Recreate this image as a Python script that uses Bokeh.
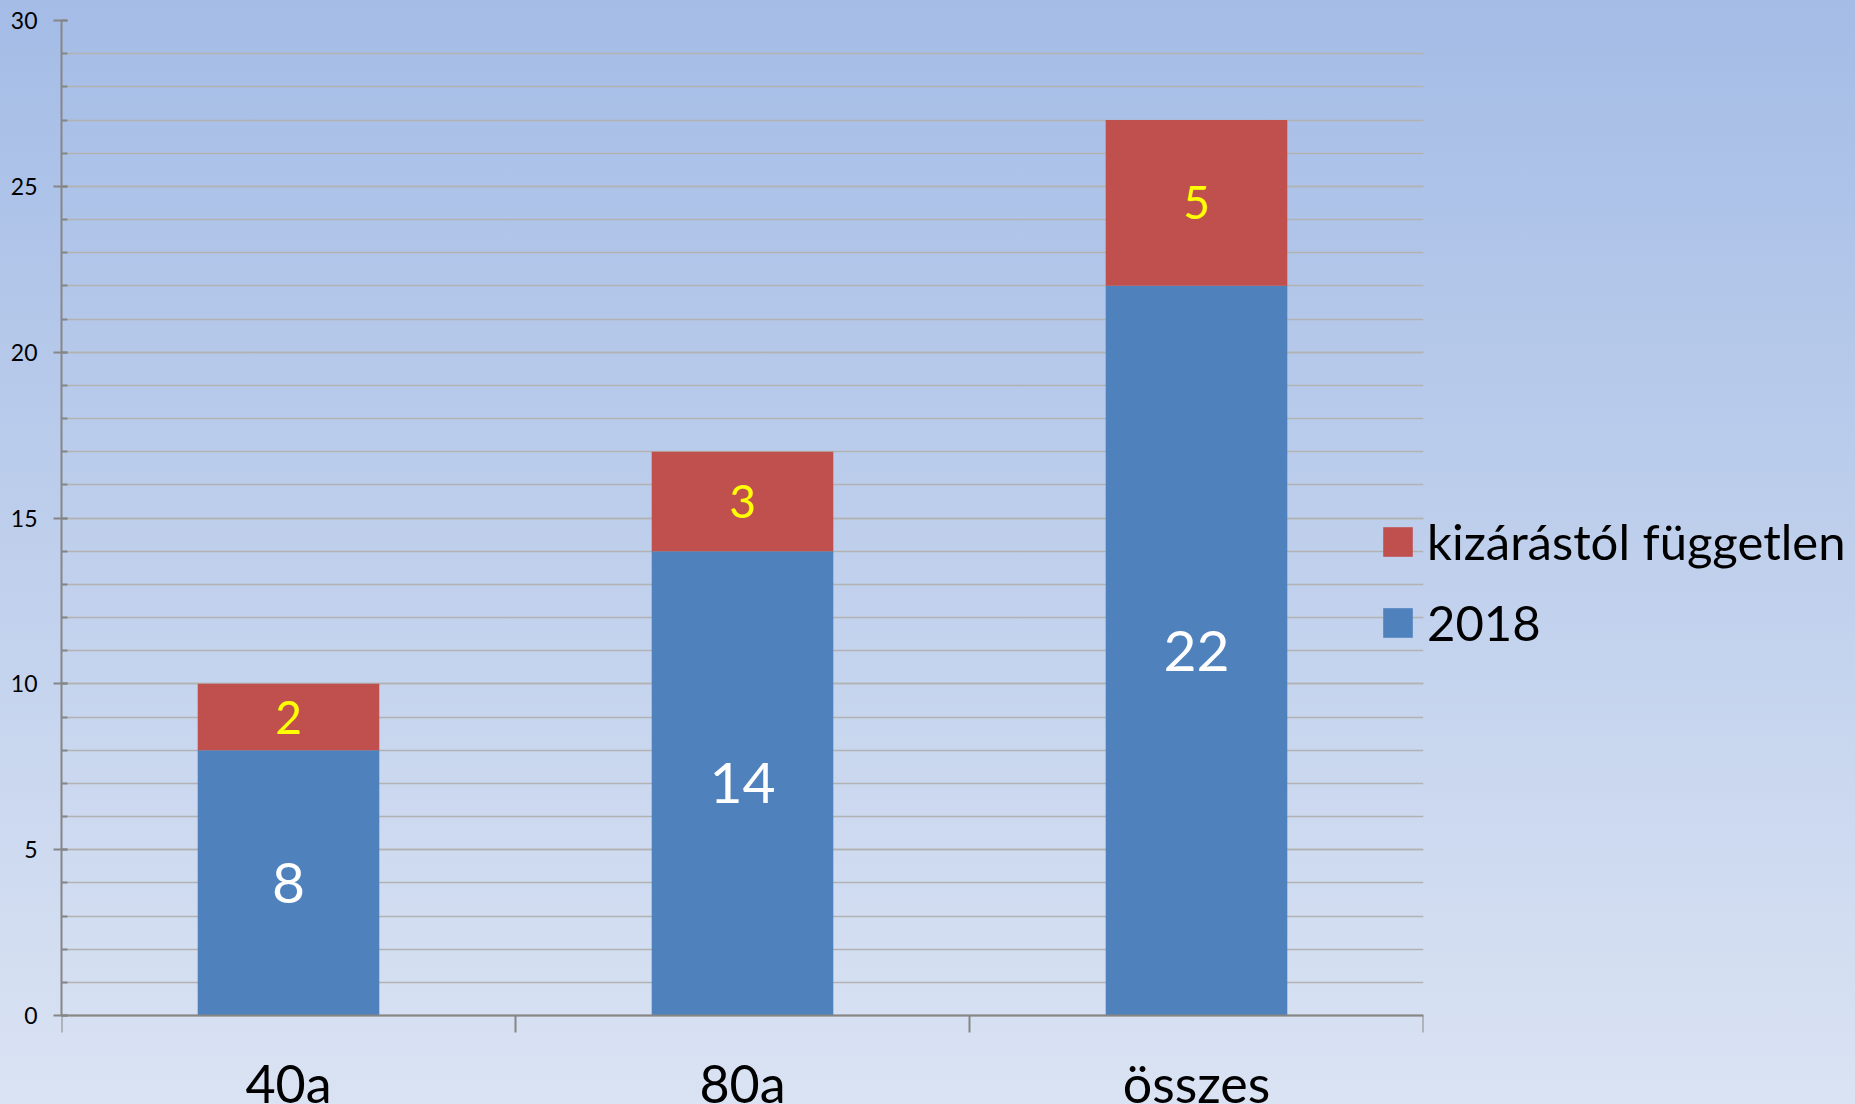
from bokeh.plotting import figure
from bokeh.models import (Range1d, LinearAxis, FixedTicker, Legend, LegendItem,
                          ColumnDataSource, Grid)
from bokeh.embed import file_html
from bokeh.resources import INLINE
from bokeh.core.properties import value

# ---- data ----
categories = ["40a", "80a", "összes"]
values_2018 = [8, 14, 22]
values_kizarastol = [2, 3, 5]
series_names = ["2018", "kizárástól független"]
y_major_ticks = [0, 5, 10, 15, 20, 25, 30]
y_minor_ticks = list(range(0, 31))

# ---- derived ----
n = len(categories)
xs = [i + 0.5 for i in range(n)]
tops = [a + b for a, b in zip(values_2018, values_kizarastol)]

src_blue = ColumnDataSource(dict(
    x=xs, bottom=[0] * n, top=values_2018,
    mid=[v / 2 for v in values_2018],
    lab=[str(v) for v in values_2018]))
src_red = ColumnDataSource(dict(
    x=xs, bottom=values_2018, top=tops,
    mid=[(a + b) / 2 for a, b in zip(values_2018, tops)],
    lab=[str(v) for v in values_kizarastol]))

BLUE = "#4F81BD"
RED = "#C0504D"
AXIS = "#868686"
GRID = "#B2B2B2"
FONT = "Lato"

p = figure(frame_width=1362, frame_height=1084,
           output_backend="svg", toolbar_location=None,
           x_range=Range1d(0, n), y_range=Range1d(-2.683, 30),
           x_axis_type=None, y_axis_type=None,
           min_border_left=61, min_border_right=0,
           min_border_top=20, min_border_bottom=0)
p.background_fill_color = None
p.border_fill_color = None
p.outline_line_color = None
p.styles = {"position": "fixed", "left": "0px", "top": "0px",
            "background": "linear-gradient(to bottom, #A4BCE6, #DAE3F3)"}

yticker = FixedTicker(ticks=y_major_ticks, minor_ticks=y_minor_ticks)
grid = Grid(dimension=1, ticker=yticker, grid_line_color=GRID, grid_line_width=1.5,
            minor_grid_line_color=GRID, minor_grid_line_width=1.5)
p.add_layout(grid)

yaxis = LinearAxis(ticker=yticker, bounds=(0, 30),
                   axis_line_color=AXIS, axis_line_width=2,
                   major_tick_line_color=AXIS, major_tick_line_width=2,
                   major_tick_out=8, major_tick_in=6,
                   minor_tick_line_color=AXIS, minor_tick_line_width=2,
                   minor_tick_out=0, minor_tick_in=6,
                   major_label_text_font=FONT, major_label_text_font_size="23px",
                   major_label_text_color="black", major_label_standoff=16)
p.add_layout(yaxis, "left")

xticker = FixedTicker(ticks=xs, minor_ticks=list(range(n + 1)))
xaxis = LinearAxis(ticker=xticker, fixed_location=0,
                   major_label_overrides={x: c for x, c in zip(xs, categories)},
                   axis_line_color=AXIS, axis_line_width=2,
                   major_tick_out=0, major_tick_in=0,
                   minor_tick_line_color=AXIS, minor_tick_line_width=2,
                   minor_tick_out=17, minor_tick_in=0,
                   major_label_text_font=FONT, major_label_text_font_size="52px",
                   major_label_text_color="black", major_label_standoff=19)
p.add_layout(xaxis, "below")

r_blue = p.vbar(x="x", bottom="bottom", top="top", width=0.4, source=src_blue,
                fill_color=BLUE, line_color=None)
r_red = p.vbar(x="x", bottom="bottom", top="top", width=0.4, source=src_red,
               fill_color=RED, line_color=None)

p.text(x="x", y="mid", text="lab", source=src_blue, text_align="center",
       text_baseline="middle", text_font=value(FONT), text_font_size=value("57px"),
       text_color="white")
p.text(x="x", y="mid", text="lab", source=src_red, text_align="center",
       text_baseline="middle", text_font=value(FONT), text_font_size=value("46px"),
       text_color="#FFFF00")

legend = Legend(items=[LegendItem(label=series_names[1], renderers=[r_red]),
                       LegendItem(label=series_names[0], renderers=[r_blue])],
                location=(-44, 453), glyph_width=37, glyph_height=37,
                label_standoff=11, label_text_font=FONT, label_text_font_size="49px",
                label_text_color="black", spacing=23, padding=0, margin=0,
                border_line_color=None, background_fill_alpha=0)
p.add_layout(legend, "right")

open("out.html", "w").write(file_html(p, INLINE))
